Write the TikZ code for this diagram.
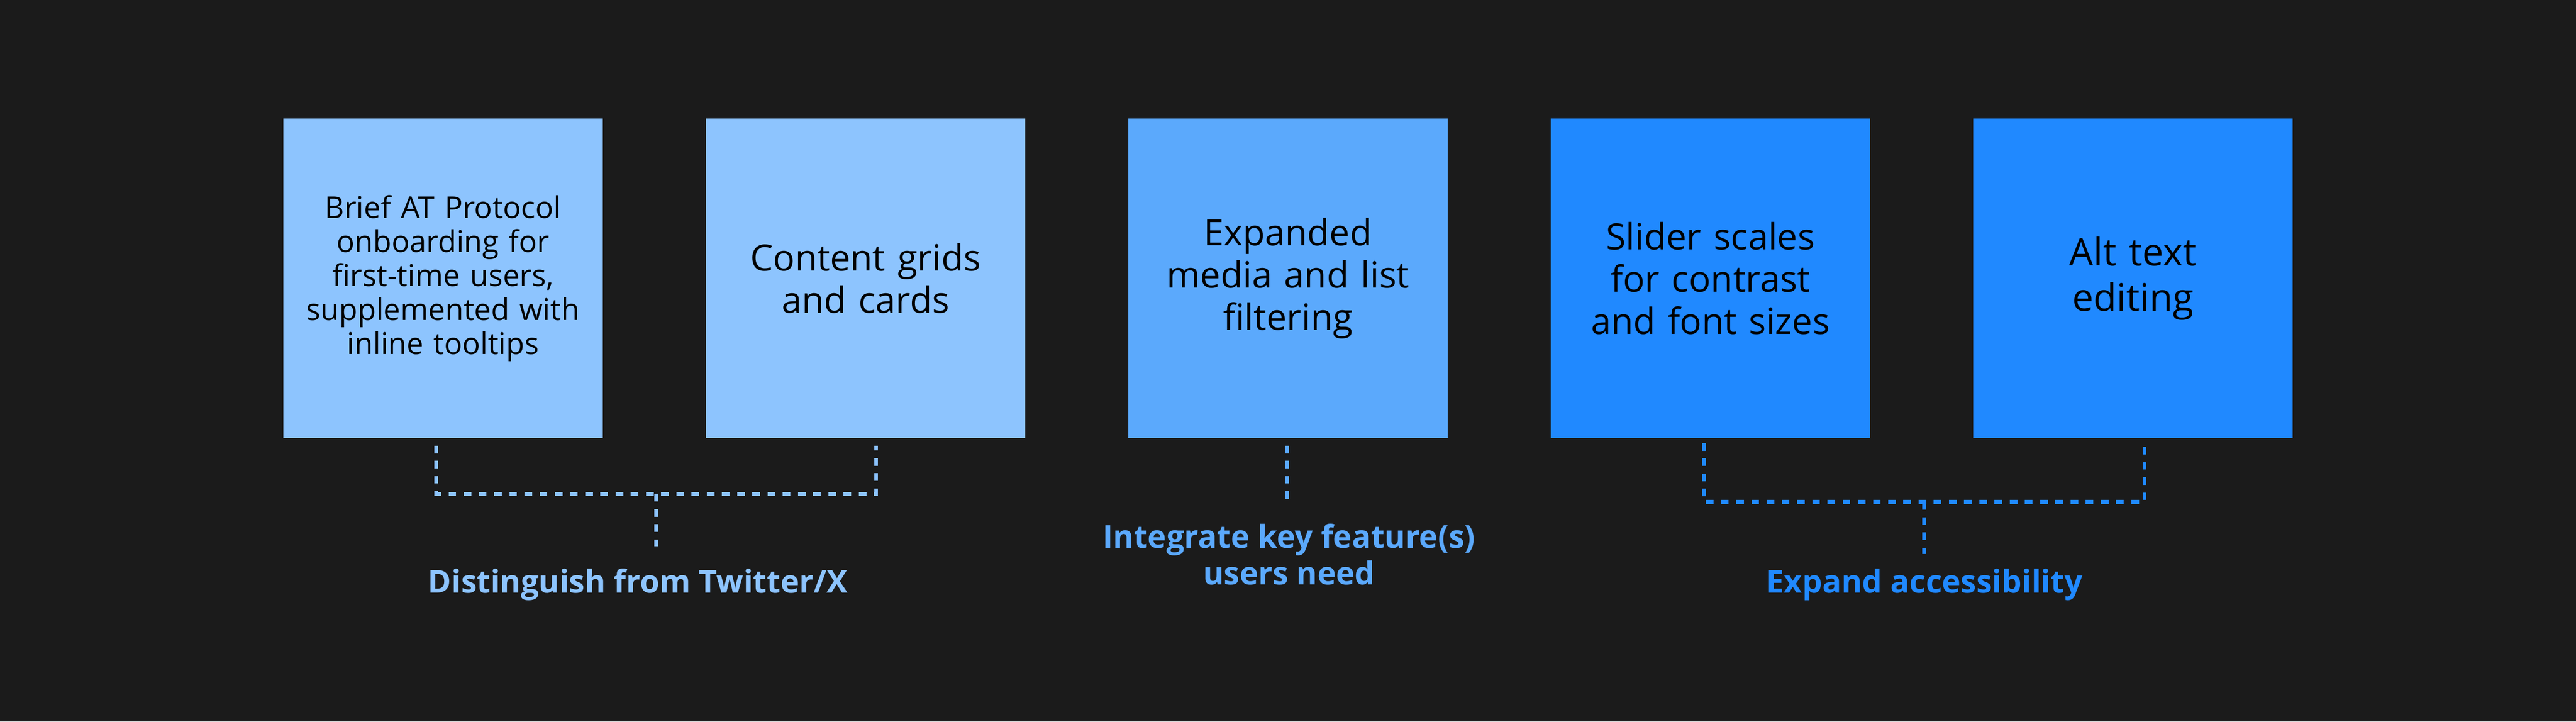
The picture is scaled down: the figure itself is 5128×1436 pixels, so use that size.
\documentclass[tikz,border=0pt]{standalone}
\usepackage{fontspec}
\setmainfont{Open Sans}
\definecolor{bg}{HTML}{1B1B1B}
\definecolor{paleblue}{HTML}{8DC4FE}
\definecolor{midblue}{HTML}{5BA9FC}
\definecolor{deepblue}{HTML}{2089FF}
\tikzset{
  card/.style={fill=#1, minimum width=6.36cm, minimum height=6.36cm,
    inner sep=0pt, text width=5.9cm, align=center,
    font=\fontsize{20.5}{24}\selectfont},
  link/.style={draw=#1, line width=2.1pt, dash pattern=on 4.3pt off 4.3pt},
  goal/.style={text=#1, inner sep=0pt, align=center,
    font=\fontsize{17.9}{20.8}\selectfont\bfseries}
}
\begin{document}
\begin{tikzpicture}[x=0.01cm,y=-0.01cm]
\fill[bg] (0,0) rectangle (5128,1436);
% feature cards
\node[card=paleblue, font=\fontsize{17}{19.3}\selectfont] (brief) at (882,554)
  {Brief AT Protocol\\onboarding for\\first-time users,\\supplemented with\\inline tooltips};
\node[card=paleblue] (grids) at (1723,554) {Content grids\\and cards};
\node[card=midblue] (media) at (2564,554) {Expanded\\media and list\\filtering};
\node[card=deepblue] (slider) at (3405,554) {Slider scales\\for contrast\\and font sizes};
\node[card=deepblue, font=\fontsize{21.5}{25.8}\selectfont] (alt) at (4246,554) {Alt text\\editing};
% goals
\node[goal=paleblue, anchor=base] (twitter) at (1270,1180) {Distinguish from Twitter/X};
\node[goal=midblue, anchor=north] (needs) at (2566,1042) {Integrate key feature(s)\\users need};
\node[goal=deepblue, anchor=base] (access) at (3831,1180) {Expand accessibility};
% brackets
\coordinate (j1) at (1306,983);
\coordinate (j3) at (3830,999);
\draw[link=paleblue] ([shift={(-14,14)}]brief.south) |- (j1) -| ([shift={(21,14)}]grids.south);
\draw[link=paleblue] (j1) -- ++(0,104) coordinate (e1);
\draw[link=midblue] ([shift={(-2,14)}]media.south) -- ++(0,106) coordinate (e2);
\draw[link=deepblue] ([shift={(-13,9)}]slider.south) |- (j3) -| ([shift={(23,9)}]alt.south);
\draw[link=deepblue] (j3) -- ++(0,104) coordinate (e3);
\end{tikzpicture}
\end{document}
